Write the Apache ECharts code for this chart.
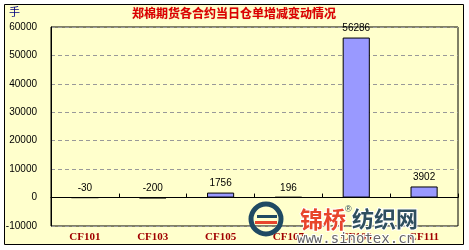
<!DOCTYPE html>
<html>
<head>
<meta charset="utf-8">
<script src="https://cdn.jsdelivr.net/npm/echarts@6/dist/echarts.min.js"></script>
<style>
html,body{margin:0;padding:0;background:#fff;}
#c{width:469px;height:250px;}
</style>
</head>
<body>
<div id="c"></div>
<script>
const titleText = '郑棉期货各合约当日仓单增减变动情况';
const unitText = '手';
const categories = ['CF101', 'CF103', 'CF105', 'CF107', 'CF109', 'CF111'];
const values = [-30, -200, 1756, 196, 56286, 3902];
const yMin = -10000, yMax = 60000, yStep = 10000;

const chart = echarts.init(document.getElementById('c'), null, {renderer: 'canvas'});
const option = {
  backgroundColor: '#ffffff',
  animation: false,
  graphic: [
    {type: 'rect', shape: {x: 4.5, y: 4.5, width: 459, height: 240}, style: {fill: '#FFFFCC', stroke: '#000', lineWidth: 1}, z: -10},
    {type: 'text', left: 9, top: 6, style: {text: unitText, fill: '#000080', font: '11px "Noto Sans CJK SC"'}},
    {type: 'text', x: 234, y: 13, style: {text: titleText, fill: '#DD0000', font: 'bold 12px "Noto Sans CJK SC"', textAlign: 'center', textVerticalAlign: 'middle', textShadowColor: 'rgba(150,0,0,0.4)', textShadowBlur: 1}},
    {type: 'circle', shape: {cx: 266, cy: 219, r: 15}, style: {fill: 'none', stroke: '#1F4A63', lineWidth: 5}, z: 20},
    {type: 'rect', shape: {x: 257, y: 215, width: 20, height: 3}, style: {fill: '#1F4A63'}, z: 20},
    {type: 'rect', shape: {x: 255, y: 221, width: 22, height: 3}, style: {fill: '#E8452C'}, z: 20},
    {type: 'text', x: 300, y: 219, style: {text: '锦桥', fill: '#E8452C', font: 'bold 23px "Noto Sans CJK SC"', textVerticalAlign: 'middle', stroke: '#fff', lineWidth: 2}, z: 20},
    {type: 'text', x: 345, y: 210, style: {text: '®', fill: '#2F4F5F', font: '9px sans-serif', textVerticalAlign: 'middle'}, z: 20},
    {type: 'text', x: 352, y: 219, style: {text: '纺织网', fill: '#2F4F5F', font: 'bold 22px "Noto Sans CJK SC"', textVerticalAlign: 'middle', stroke: '#fff', lineWidth: 2}, z: 20},
    {type: 'text', x: 297, y: 239, style: {text: 'www.sinotex.cn', fill: '#666', font: '14px "DejaVu Sans Mono"', textVerticalAlign: 'middle', stroke: '#fff', lineWidth: 2}, z: 20}
  ],
  grid: {left: 51, right: 11, top: 27, bottom: 24, show: true, borderColor: '#000', borderWidth: 1, backgroundColor: '#FFFFCC'},
  xAxis: [
    {
      type: 'category', data: categories, position: 'bottom',
      axisLine: {show: true, onZero: true, lineStyle: {color: '#000', width: 1}},
      axisTick: {show: true, inside: true, length: 4, lineStyle: {color: '#000'}},
      axisLabel: {show: false}
    },
    {
      type: 'category', data: categories, position: 'bottom',
      axisLine: {show: false, onZero: false}, axisTick: {show: false},
      axisLabel: {show: true, color: '#A00000', fontWeight: 'bold', fontFamily: 'Liberation Serif', fontSize: 11, margin: 6}
    }
  ],
  yAxis: {
    type: 'value', min: yMin, max: yMax, interval: yStep,
    axisLine: {show: true, lineStyle: {color: '#000'}},
    axisTick: {show: false},
    axisLabel: {color: '#000', fontSize: 10, fontFamily: 'Liberation Sans', margin: 14, formatter: v => String(v)},
    splitLine: {show: true, lineStyle: {color: '#999', type: [4, 3], width: 1}}
  },
  series: [{
    type: 'bar', data: values, xAxisIndex: 0, barWidth: '40%',
    itemStyle: {color: '#9999FF', borderColor: '#000', borderWidth: 1},
    label: {show: true, position: 'top', color: '#000', fontSize: 10, fontFamily: 'Liberation Sans', distance: 4}
  }]
};
chart.setOption(option);
</script>
</body>
</html>
